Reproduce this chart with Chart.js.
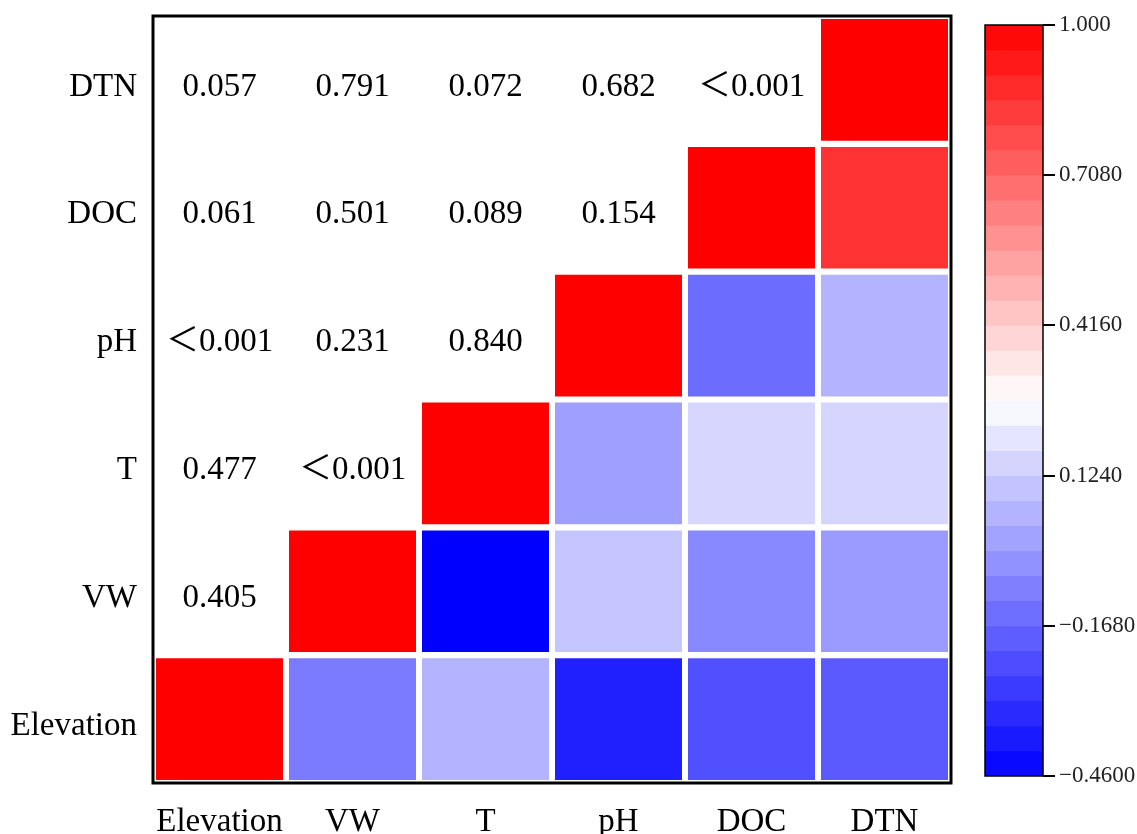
<!DOCTYPE html>
<html>
<head>
<meta charset="utf-8">
<script src="https://cdn.jsdelivr.net/npm/chart.js@4.4.1/dist/chart.umd.min.js"></script>
<style>
  html, body { margin: 0; padding: 0; background: #ffffff; }
  #wrap { position: relative; width: 1137px; height: 834px; overflow: hidden; background: #fff; }
  #main { position: absolute; left: 0; top: 0; }
  #bar { position: absolute; left: 970px; top: 0; }
</style>
</head>
<body>
<div id="wrap">
  <canvas id="main" width="970" height="834"></canvas>
  <canvas id="bar" width="167" height="834"></canvas>
</div>
<script>
// ---------- data ----------
const variables = ['Elevation', 'VW', 'T', 'pH', 'DOC', 'DTN'];

// correlation coefficients (lower-right triangle), row variable -> columns Elevation..DTN
const corrElevation = [1.000, -0.108, 0.052, -0.368, -0.231, -0.202];
const corrVW        = [null, 1.000, -0.460, 0.104, -0.071, -0.019];
const corrT         = [null, null, 1.000, -0.005, 0.153, 0.150];
const corrPH        = [null, null, null, 1.000, -0.151, 0.052];
const corrDOC       = [null, null, null, null, 1.000, 0.854];
const corrDTN       = [null, null, null, null, null, 1.000];

// p-values (upper-left triangle), row variable -> columns Elevation..
const pVW  = ['0.405'];
const pT   = ['0.477', '＜0.001'];
const pPH  = ['＜0.001', '0.231', '0.840'];
const pDOC = ['0.061', '0.501', '0.089', '0.154'];
const pDTN = ['0.057', '0.791', '0.072', '0.682', '＜0.001'];

// colour bar
const cbMin = -0.46;
const cbMax = 1.0;
const cbBands = 30;
const cbTickValues = [-0.46, -0.168, 0.124, 0.416, 0.708, 1.0];
const cbTickLabels = ['\u22120.4600', '\u22120.1680', '0.1240', '0.4160', '0.7080', '1.000'];

// ---------- helpers ----------
const corrRows = [corrElevation, corrVW, corrT, corrPH, corrDOC, corrDTN];
const pRows = [null, pVW, pT, pPH, pDOC, pDTN];
const cbMid = (cbMin + cbMax) / 2;

function colorFor(v) {
  if (v <= cbMid) {
    const t = Math.max(0, Math.min(1, (v - cbMin) / (cbMid - cbMin)));
    const c = Math.round(255 * t);
    return `rgb(${c},${c},255)`;
  } else {
    const t = Math.max(0, Math.min(1, (v - cbMid) / (cbMax - cbMid)));
    const c = Math.round(255 * (1 - t));
    return `rgb(255,${c},${c})`;
  }
}

const FONT = '"Liberation Serif", "Noto Sans CJK SC", serif';
const gapY = 0.024;
const textShift = 7;

const cellData = [];
const cellColors = [];
corrRows.forEach((row, j) => {
  row.forEach((v, i) => {
    if (v === null) return;
    cellData.push({ x: variables[i], y: [j - 0.5 + gapY, j + 0.5 - gapY] });
    cellColors.push(colorFor(v));
  });
});

const pTextPlugin = {
  id: 'pText',
  afterDatasetsDraw(chart) {
    const { ctx, scales } = chart;
    ctx.save();
    ctx.fillStyle = '#000';
    ctx.font = '33px ' + FONT;
    ctx.textAlign = 'center';
    ctx.textBaseline = 'middle';
    pRows.forEach((row, j) => {
      if (!row) return;
      row.forEach((txt, i) => {
        const x = scales.x.getPixelForValue(i);
        const y = scales.y.getPixelForValue(j);
        ctx.fillText(txt, x, y + textShift);
      });
    });
    ctx.restore();
  }
};

const framePlugin = {
  id: 'frame',
  afterDraw(chart, args, opts) {
    const a = chart.chartArea;
    const ctx = chart.ctx;
    ctx.save();
    ctx.strokeStyle = '#000';
    ctx.lineWidth = opts.width || 3;
    ctx.strokeRect(a.left, a.top, a.right - a.left, a.bottom - a.top);
    ctx.restore();
  }
};

const whiteBg = {
  id: 'whiteBg',
  beforeDraw(chart) {
    const ctx = chart.ctx;
    ctx.save();
    ctx.fillStyle = '#fff';
    ctx.fillRect(0, 0, chart.width, chart.height);
    ctx.restore();
  }
};

new Chart(document.getElementById('main'), {
  type: 'bar',
  data: {
    labels: variables,
    datasets: [{
      data: cellData,
      backgroundColor: cellColors,
      borderWidth: 0,
      barPercentage: 1,
      categoryPercentage: 0.955,
      grouped: false
    }]
  },
  options: {
    responsive: false,
    animation: false,
    devicePixelRatio: 1,
    layout: { padding: { top: 16, right: 19, left: 0, bottom: 0 } },
    plugins: {
      legend: { display: false },
      tooltip: { enabled: false },
      frame: { width: 3 }
    },
    scales: {
      x: {
        type: 'category',
        offset: true,
        grid: { display: false, drawTicks: false },
        border: { display: false },
        ticks: { color: '#000', font: { family: FONT, size: 33 }, padding: 20, maxRotation: 0, autoSkip: false },
        afterFit(scale) { scale.height = 51; scale.paddingLeft = 0; scale.paddingRight = 0; }
      },
      y: {
        type: 'linear',
        min: -0.5,
        max: 5.5,
        grid: { display: false, drawTicks: false },
        border: { display: false },
        afterBuildTicks(scale) { scale.ticks = variables.map((_, k) => ({ value: k })); },
        ticks: {
          color: '#000',
          font: { family: FONT, size: 33 },
          padding: 16,
          labelOffset: textShift,
          callback: (v) => variables[v]
        },
        afterFit(scale) { scale.width = 153; scale.paddingTop = 0; scale.paddingBottom = 0; }
      }
    }
  },
  plugins: [whiteBg, pTextPlugin, framePlugin]
});

// ---------- colour bar ----------
const bandStep = (cbMax - cbMin) / cbBands;
const bandData = [];
const bandColors = [];
for (let k = 0; k < cbBands; k++) {
  const lo = cbMin + k * bandStep;
  const hi = lo + bandStep;
  bandData.push({ x: 'cb', y: [lo, hi] });
  bandColors.push(colorFor((lo + hi) / 2));
}

new Chart(document.getElementById('bar'), {
  type: 'bar',
  data: {
    labels: ['cb'],
    datasets: [{
      data: bandData,
      backgroundColor: bandColors,
      borderWidth: 0,
      barPercentage: 1,
      categoryPercentage: 1,
      grouped: false
    }]
  },
  options: {
    responsive: false,
    animation: false,
    devicePixelRatio: 1,
    layout: { padding: { top: 25, bottom: 58, left: 15, right: 0 } },
    plugins: {
      legend: { display: false },
      tooltip: { enabled: false },
      frame: { width: 1.5 }
    },
    scales: {
      x: { type: 'category', display: false, offset: true },
      y: {
        type: 'linear',
        position: 'right',
        min: cbMin,
        max: cbMax,
        afterBuildTicks(scale) { scale.ticks = cbTickValues.map(v => ({ value: v })); },
        grid: { display: true, drawOnChartArea: false, drawTicks: true, tickLength: 12, color: '#000', lineWidth: 2 },
        border: { display: false },
        ticks: {
          color: '#222',
          font: { family: FONT, size: 23 },
          padding: 4,
          callback: (v, idx) => cbTickLabels[idx]
        },
        afterFit(scale) { scale.width = 94; scale.paddingTop = 0; scale.paddingBottom = 0; }
      }
    }
  },
  plugins: [whiteBg, framePlugin]
});
</script>
</body>
</html>
